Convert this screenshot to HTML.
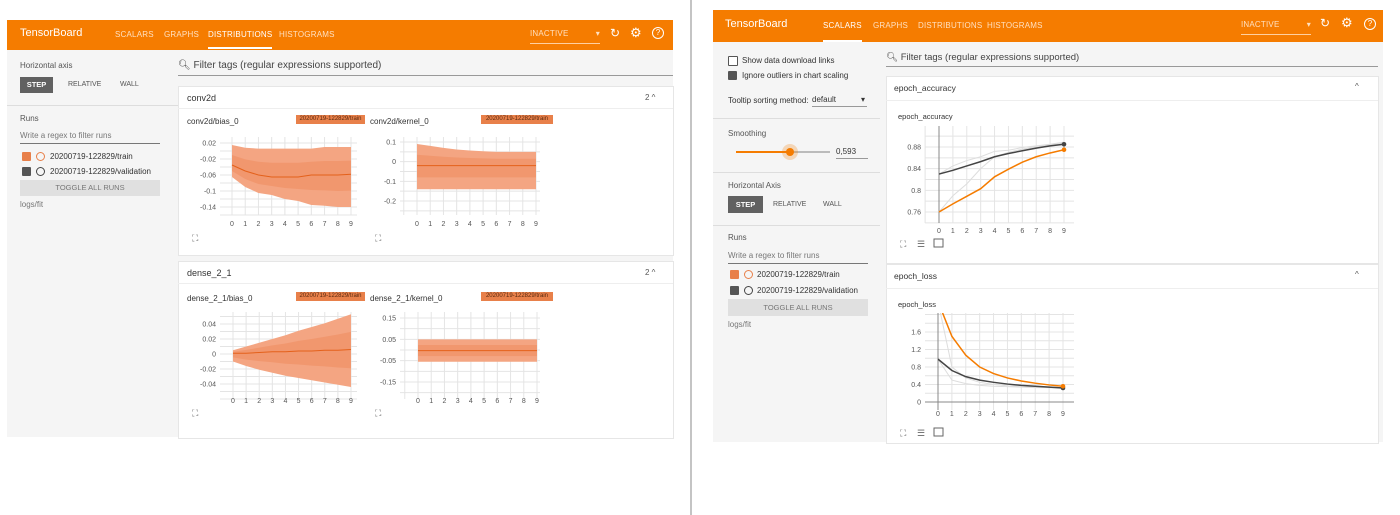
<!DOCTYPE html>
<html><head><meta charset="utf-8">
<style>
body{margin:0;width:1400px;height:515px;background:#fff;position:relative;overflow:hidden;font-family:"Liberation Sans",sans-serif;color:#333}
.a{position:absolute;white-space:nowrap}
.hdr{background:#f57c00;color:#fff}
.tab{font-size:8px;color:#ffe0c0;letter-spacing:.2px}
.side{background:#f5f5f5}
.s{font-size:8px;color:#555}
.btn{background:#616161;color:#fff;font-size:7.5px;text-align:center;font-weight:bold}
.tog{background:#e0e0e0;color:#777;font-size:7.5px;text-align:center}
.cb{width:9px;height:9px;border-radius:1px}
.circ{width:7px;height:7px;border-radius:50%;border:1.3px solid}
.card{background:#fff;border:1px solid #e6e6e6}
.badge{background:#e8804a;color:#5a2a10;font-size:6px;text-align:center;line-height:9px}
svg text{font-family:"Liberation Sans",sans-serif;font-size:7px;fill:#555}
</style></head><body>
<svg class="a" style="left:0;top:0" width="1400" height="515"><line x1="691" y1="0" x2="691" y2="515" stroke="#888" stroke-width="1"/></svg>

<!-- LEFT SCREENSHOT -->
<div class="a side" style="left:7px;top:50px;width:666px;height:387px"></div>
<div class="a hdr" style="left:7px;top:20px;width:666px;height:30px"></div>
<div class="a" style="left:20px;top:27px;font-size:11px;color:#fff">TensorBoard</div>
<div class="a tab" style="left:115px;top:30px">SCALARS</div>
<div class="a tab" style="left:164px;top:30px">GRAPHS</div>
<div class="a tab" style="left:208px;top:30px;color:#fff;border-bottom:2px solid #fff;padding-bottom:8px">DISTRIBUTIONS</div>
<div class="a tab" style="left:279px;top:30px">HISTOGRAMS</div>
<div class="a tab" style="left:530px;top:29px;width:70px;border-bottom:1px solid #ffd0a0;padding-bottom:5px">INACTIVE<span style="position:absolute;right:0">▾</span></div>
<div class="a" style="left:610px;top:26px;font-size:12px;color:#fff">↻</div>
<div class="a" style="left:630px;top:25px;font-size:13px;color:#fff">⚙</div>
<div class="a" style="left:652px;top:27px;width:10px;height:10px;border:1.5px solid #fff;border-radius:50%;font-size:8px;color:#fff;text-align:center;line-height:10px">?</div>

<div class="a s" style="left:20px;top:61px">Horizontal axis</div>
<div class="a btn" style="left:20px;top:77px;width:33px;height:16px;line-height:16px">STEP</div>
<div class="a s" style="left:68px;top:81px;font-size:7px">RELATIVE</div>
<div class="a s" style="left:120px;top:81px;font-size:7px">WALL</div>
<div class="a" style="left:7px;top:105px;width:171px;height:1px;background:#ddd"></div>
<div class="a s" style="left:20px;top:114px">Runs</div>
<div class="a s" style="left:20px;top:131px;width:140px;border-bottom:1px solid #777;padding-bottom:3px;color:#777">Write a regex to filter runs</div>
<div class="a cb" style="left:22px;top:152px;background:#e8804a"></div>
<div class="a circ" style="left:36px;top:152px;border-color:#e8804a"></div>
<div class="a s" style="left:50px;top:152px;color:#333">20200719-122829/train</div>
<div class="a cb" style="left:22px;top:167px;background:#555"></div>
<div class="a circ" style="left:36px;top:167px;border-color:#444"></div>
<div class="a s" style="left:50px;top:167px;color:#333">20200719-122829/validation</div>
<div class="a tog" style="left:20px;top:180px;width:140px;height:16px;line-height:16px">TOGGLE ALL RUNS</div>
<div class="a s" style="left:20px;top:200px;color:#777">logs/fit</div>

<div class="a" style="left:178px;top:60px;width:495px;font-size:10px;color:#444;border-bottom:1px solid #999;padding-bottom:4px">🔍︎ Filter tags (regular expressions supported)</div>
<div class="a card" style="left:178px;top:86px;width:494px;height:168px"></div>
<div class="a" style="left:178px;top:108px;width:495px;height:1px;background:#eee"></div>
<div class="a" style="left:187px;top:93px;font-size:9px">conv2d</div>
<div class="a s" style="left:645px;top:93px">2 ^</div>
<div class="a s" style="left:187px;top:117px;color:#333">conv2d/bias_0</div>
<div class="a badge" style="left:296px;top:115px;width:69px">20200719-122829/train</div>
<div class="a s" style="left:370px;top:117px;color:#333">conv2d/kernel_0</div>
<div class="a badge" style="left:481px;top:115px;width:72px">20200719-122829/train</div>

<div class="a card" style="left:178px;top:261px;width:494px;height:176px"></div>
<div class="a" style="left:178px;top:283px;width:495px;height:1px;background:#eee"></div>
<div class="a" style="left:187px;top:268px;font-size:9px">dense_2_1</div>
<div class="a s" style="left:645px;top:268px">2 ^</div>
<div class="a s" style="left:187px;top:294px;color:#333">dense_2_1/bias_0</div>
<div class="a badge" style="left:296px;top:292px;width:69px">20200719-122829/train</div>
<div class="a s" style="left:370px;top:294px;color:#333">dense_2_1/kernel_0</div>
<div class="a badge" style="left:481px;top:292px;width:72px">20200719-122829/train</div>

<!-- RIGHT SCREENSHOT -->
<div class="a side" style="left:713px;top:42px;width:670px;height:400px"></div>
<div class="a hdr" style="left:713px;top:10px;width:670px;height:32px"></div>
<div class="a" style="left:725px;top:18px;font-size:11px;color:#fff">TensorBoard</div>
<div class="a tab" style="left:823px;top:21px;color:#fff;border-bottom:2px solid #fff;padding-bottom:10px">SCALARS</div>
<div class="a tab" style="left:873px;top:21px">GRAPHS</div>
<div class="a tab" style="left:918px;top:21px">DISTRIBUTIONS</div>
<div class="a tab" style="left:987px;top:21px">HISTOGRAMS</div>
<div class="a tab" style="left:1241px;top:20px;width:70px;border-bottom:1px solid #ffd0a0;padding-bottom:5px">INACTIVE<span style="position:absolute;right:0">▾</span></div>
<div class="a" style="left:1320px;top:16px;font-size:12px;color:#fff">↻</div>
<div class="a" style="left:1341px;top:15px;font-size:13px;color:#fff">⚙</div>
<div class="a" style="left:1364px;top:18px;width:10px;height:10px;border:1.5px solid #fff;border-radius:50%;font-size:8px;color:#fff;text-align:center;line-height:10px">?</div>

<div class="a cb" style="left:728px;top:56px;border:1px solid #555;background:#fff;width:8px;height:8px"></div>
<div class="a s" style="left:742px;top:56px;color:#333">Show data download links</div>
<div class="a cb" style="left:728px;top:71px;background:#555"></div>
<div class="a s" style="left:742px;top:71px;color:#333">Ignore outliers in chart scaling</div>
<div class="a s" style="left:728px;top:96px;color:#333">Tooltip sorting method:</div>
<div class="a s" style="left:812px;top:95px;width:55px;border-bottom:1px solid #999;padding-bottom:2px;color:#333">default<span style="position:absolute;right:2px">▾</span></div>
<div class="a" style="left:713px;top:118px;width:167px;height:1px;background:#ddd"></div>
<div class="a s" style="left:728px;top:129px">Smoothing</div>
<div class="a" style="left:736px;top:151px;width:54px;height:2px;background:#f57c00"></div>
<div class="a" style="left:790px;top:151px;width:40px;height:2px;background:#bbb"></div>
<div class="a" style="left:782px;top:144px;width:16px;height:16px;border-radius:50%;background:rgba(245,124,0,.25)"></div>
<div class="a" style="left:786px;top:148px;width:8px;height:8px;border-radius:50%;background:#f57c00"></div>
<div class="a s" style="left:836px;top:147px;width:32px;border-bottom:1px solid #999;padding-bottom:2px;color:#333">0,593</div>
<div class="a" style="left:713px;top:172px;width:167px;height:1px;background:#ddd"></div>
<div class="a s" style="left:728px;top:181px">Horizontal Axis</div>
<div class="a btn" style="left:728px;top:196px;width:35px;height:17px;line-height:17px">STEP</div>
<div class="a s" style="left:773px;top:201px;font-size:7px">RELATIVE</div>
<div class="a s" style="left:823px;top:201px;font-size:7px">WALL</div>
<div class="a" style="left:713px;top:225px;width:167px;height:1px;background:#ddd"></div>
<div class="a s" style="left:728px;top:233px">Runs</div>
<div class="a s" style="left:728px;top:251px;width:140px;border-bottom:1px solid #777;padding-bottom:3px;color:#777">Write a regex to filter runs</div>
<div class="a cb" style="left:730px;top:270px;background:#e8804a"></div>
<div class="a circ" style="left:744px;top:270px;border-color:#e8804a"></div>
<div class="a s" style="left:757px;top:270px;color:#333">20200719-122829/train</div>
<div class="a cb" style="left:730px;top:286px;background:#555"></div>
<div class="a circ" style="left:744px;top:286px;border-color:#444"></div>
<div class="a s" style="left:757px;top:286px;color:#333">20200719-122829/validation</div>
<div class="a tog" style="left:728px;top:299px;width:140px;height:17px;line-height:17px">TOGGLE ALL RUNS</div>
<div class="a s" style="left:728px;top:320px;color:#777">logs/fit</div>

<div class="a" style="left:886px;top:52px;width:492px;font-size:9.5px;color:#444;border-bottom:1px solid #999;padding-bottom:3px">🔍︎ Filter tags (regular expressions supported)</div>
<div class="a card" style="left:886px;top:76px;width:491px;height:186px"></div>
<div class="a" style="left:886px;top:100px;width:492px;height:1px;background:#eee"></div>
<div class="a" style="left:894px;top:83px;font-size:8.5px">epoch_accuracy</div>
<div class="a s" style="left:1355px;top:82px">^</div>
<div class="a s" style="left:898px;top:112px;color:#333;font-size:7.5px">epoch_accuracy</div>
<div class="a card" style="left:886px;top:264px;width:491px;height:178px"></div>
<div class="a" style="left:886px;top:288px;width:492px;height:1px;background:#eee"></div>
<div class="a" style="left:894px;top:271px;font-size:8.5px">epoch_loss</div>
<div class="a s" style="left:1355px;top:270px">^</div>
<div class="a s" style="left:898px;top:300px;color:#333;font-size:7.5px">epoch_loss</div>

<svg id="charts" class="a" style="left:0;top:0" width="1400" height="515"></svg>

<script>
// ---- data ----
const steps = [0,1,2,3,4,5,6,7,8,9];
const convBiasMax = [0.015,0.008,0.006,0.006,0.006,0.006,0.006,0.01,0.01,0.01];
const convBiasMin = [-0.065,-0.09,-0.105,-0.11,-0.12,-0.125,-0.135,-0.137,-0.14,-0.14];
const convBiasMid = [-0.035,-0.05,-0.06,-0.065,-0.065,-0.065,-0.06,-0.06,-0.06,-0.058];
const convBiasTicks = [0.02,-0.02,-0.06,-0.1,-0.14];
const convKernMax = [0.09,0.08,0.07,0.062,0.057,0.053,0.05,0.05,0.05,0.05];
const convKernMin = [-0.14,-0.14,-0.14,-0.14,-0.14,-0.14,-0.14,-0.14,-0.14,-0.14];
const convKernMid = [-0.02,-0.02,-0.02,-0.02,-0.02,-0.02,-0.02,-0.02,-0.02,-0.02];
const convKernTicks = [0.1,0,-0.1,-0.2];
const denseBiasMax = [0.005,0.01,0.015,0.02,0.025,0.031,0.036,0.041,0.047,0.053];
const denseBiasMin = [-0.01,-0.016,-0.021,-0.025,-0.029,-0.032,-0.035,-0.038,-0.041,-0.044];
const denseBiasMid = [0.001,0.001,0.002,0.003,0.003,0.004,0.004,0.005,0.005,0.006];
const denseBiasTicks = [0.04,0.02,0,-0.02,-0.04];
const denseKernMax = [0.05,0.05,0.05,0.05,0.05,0.05,0.05,0.05,0.05,0.05];
const denseKernMin = [-0.055,-0.055,-0.055,-0.055,-0.055,-0.055,-0.055,-0.055,-0.055,-0.055];
const denseKernMid = [-0.003,-0.003,-0.003,-0.003,-0.003,-0.003,-0.003,-0.003,-0.003,-0.003];
const denseKernTicks = [0.15,0.05,-0.05,-0.15];
const accTrain = [0.760,0.775,0.789,0.803,0.825,0.839,0.852,0.862,0.869,0.875];
const accVal = [0.830,0.837,0.845,0.853,0.862,0.868,0.873,0.878,0.882,0.885];
const accTrainRaw = [0.760,0.790,0.812,0.840,0.862,0.870,0.876,0.880,0.884,0.887];
const accValRaw = [0.830,0.845,0.855,0.862,0.872,0.874,0.879,0.882,0.885,0.889];
const accTicks = [0.88,0.84,0.8,0.76];
const lossTrain = [2.3,1.5,1.07,0.8,0.65,0.55,0.48,0.43,0.39,0.36];
const lossVal = [0.98,0.72,0.58,0.5,0.45,0.41,0.38,0.36,0.34,0.32];
const lossTrainRaw = [2.3,0.8,0.55,0.45,0.4,0.37,0.35,0.34,0.33,0.33];
const lossValRaw = [0.98,0.5,0.42,0.38,0.36,0.35,0.34,0.33,0.33,0.32];
const lossTicks = [1.6,1.2,0.8,0.4,0];

const NS='http://www.w3.org/2000/svg';
const svg=document.getElementById('charts');
function el(tag,attrs,parent){const e=document.createElementNS(NS,tag);for(const k in attrs)e.setAttribute(k,attrs[k]);(parent||svg).appendChild(e);return e;}
function mk(box,x0px,x9px,vA,yA,vB,yB){
  const sx=s=>x0px+(x9px-x0px)*s/9;
  const sy=v=>yA+(v-vA)*(yB-yA)/(vB-vA);
  return {sx,sy,box};
}
function frame(c,ticks,name,xLabelY,fmt){
  const b=c.box;
  const g=el('g',{});
  
  
  el('rect',{x:b[0],y:b[1],width:b[2],height:b[3],fill:'#fff'},g);
  for(let i=0;i<=Math.round(b[2]/13);i++){const x=c.sx(i-1)+0;if(x>=b[0]&&x<=b[0]+b[2])el('line',{x1:x,y1:b[1],x2:x,y2:b[1]+b[3],stroke:'#e4e4e4','stroke-width':1},g);}
  const dy=Math.abs(c.sy(ticks[1])-c.sy(ticks[0]))/2;
  for(let y=c.sy(ticks[0])-dy*4;y<=b[1]+b[3];y+=dy){if(y>=b[1])el('line',{x1:b[0],y1:y,x2:b[0]+b[2],y2:y,stroke:'#e4e4e4','stroke-width':1},g);}
  ticks.forEach(t=>{const tx=el('text',{x:b[0]-4,y:c.sy(t)+2.5,'text-anchor':'end'},g);tx.textContent=fmt?fmt(t):String(t);});
  steps.forEach(s=>{const tx=el('text',{x:c.sx(s),y:xLabelY,'text-anchor':'middle'},g);tx.textContent=s;});
  return g;
}
function dist(c,mx,mn,md,name){
  const top=steps.map(s=>c.sx(s)+','+c.sy(mx[s])).join(' ');
  const bot=steps.slice().reverse().map(s=>c.sx(s)+','+c.sy(mn[s])).join(' ');
  const p=el('polygon',{points:top+' '+bot,fill:'#f4a582'});
  
  
  const it=steps.map(s=>c.sx(s)+','+c.sy((mx[s]+md[s])/2)).join(' ');
  const ib=steps.slice().reverse().map(s=>c.sx(s)+','+c.sy((mn[s]+md[s])/2)).join(' ');
  const q=el('polygon',{points:it+' '+ib,fill:'#ef8c5e',opacity:0.55});
  
  
  const l=el('polyline',{points:steps.map(s=>c.sx(s)+','+c.sy(md[s])).join(' '),fill:'none',stroke:'#e4611b','stroke-width':1});
  
  
}
function line(c,vals,color,w,name,dot){
  const l=el('polyline',{points:steps.map(s=>c.sx(s)+','+c.sy(vals[s])).join(' '),fill:'none',stroke:color,'stroke-width':w});
  
  
  if(dot){const d=el('circle',{cx:c.sx(9),cy:c.sy(vals[9]),r:2.3,fill:color});
    
    }
}
function fsIcon(x,y,name){const t=el('text',{x:x,y:y,style:'font-size:9px;fill:#666'});t.textContent='⛶';
  
  }

// conv2d bias
let c=mk([220,137,137,78],232,351,0.02,143,-0.14,207);
frame(c,convBiasTicks,'conv2d-bias',226);dist(c,convBiasMax,convBiasMin,convBiasMid,'conv2d-bias');fsIcon(192,241,'conv2d-bias-fullscreen');
c=mk([400,137,140,78],417,536,0.1,142,-0.2,201);
frame(c,convKernTicks,'conv2d-kernel',226);dist(c,convKernMax,convKernMin,convKernMid,'conv2d-kernel');fsIcon(375,241,'conv2d-kernel-fullscreen');
c=mk([220,312,137,87],233,351,0.04,324,-0.04,384);
frame(c,denseBiasTicks,'dense-bias',403);dist(c,denseBiasMax,denseBiasMin,denseBiasMid,'dense-bias');fsIcon(192,416,'dense-bias-fullscreen');
c=mk([400,312,140,87],418,537,0.15,318,-0.15,382);
frame(c,denseKernTicks,'dense-kernel',403);dist(c,denseKernMax,denseKernMin,denseKernMid,'dense-kernel');fsIcon(375,416,'dense-kernel-fullscreen');

// accuracy
c=mk([925,126,149,97],939,1064,0.88,147,0.76,212);
frame(c,accTicks,'accuracy',233);
el('line',{x1:939,y1:126,x2:939,y2:223,stroke:'#888','stroke-width':1});
line(c,accTrainRaw,'#ddd',1,'accuracy-train-raw');line(c,accValRaw,'#ddd',1,'accuracy-validation-raw');
line(c,accVal,'#444',1.5,'accuracy-validation-line',true);line(c,accTrain,'#f57c00',1.5,'accuracy-train-line',true);
fsIcon(900,247,'accuracy-fullscreen');
el('text',{x:917,y:247,style:'font-size:9px;fill:#666'}).textContent='☰';
el('rect',{x:934,y:239,width:9,height:8,fill:'none',stroke:'#666'});

// loss
c=mk([925,313,149,97],938,1063,1.6,332,0,402);
frame(c,lossTicks,'loss',416);
el('line',{x1:938,y1:313,x2:938,y2:410,stroke:'#888','stroke-width':1});
el('line',{x1:925,y1:402,x2:1074,y2:402,stroke:'#888','stroke-width':1});
el('clipPath',{id:'lc'}).appendChild(Object.assign(document.createElementNS(NS,'rect'),{}));
const cp=document.getElementById('lc').firstChild;cp.setAttribute('x',925);cp.setAttribute('y',313);cp.setAttribute('width',160);cp.setAttribute('height',100);
const lg=el('g',{'clip-path':'url(#lc)'});
const _svg=svg;
function line2(vals,color,w,name,dot){const l=el('polyline',{points:steps.map(s=>c.sx(s)+','+c.sy(vals[s])).join(' '),fill:'none',stroke:color,'stroke-width':w},lg);
  
  
  if(dot){const d=el('circle',{cx:c.sx(9),cy:c.sy(vals[9]),r:2.3,fill:color},lg);
    
    }}
line2(lossTrainRaw,'#ddd',1,'loss-train-raw');line2(lossValRaw,'#ddd',1,'loss-validation-raw');
line2(lossVal,'#444',1.5,'loss-validation-line',true);line2(lossTrain,'#f57c00',1.5,'loss-train-line',true);
fsIcon(900,436,'loss-fullscreen');
el('text',{x:917,y:436,style:'font-size:9px;fill:#666'}).textContent='☰';
el('rect',{x:934,y:428,width:9,height:8,fill:'none',stroke:'#666'});
</script>
</body></html>
